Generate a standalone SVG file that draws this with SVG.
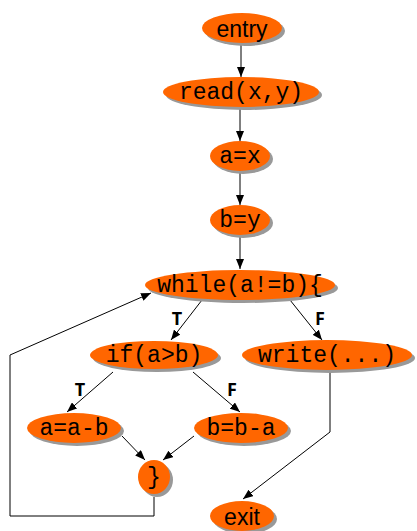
<svg xmlns="http://www.w3.org/2000/svg" width="417" height="531" viewBox="0 0 417 531">
<defs>
<marker id="ah" markerWidth="10" markerHeight="8" refX="10" refY="4" orient="auto" markerUnits="userSpaceOnUse">
<path d="M0,0 L10,4 L0,8 Z" fill="#000"/>
</marker>
</defs>
<style>
.sh{fill:#999;}
.nd{fill:#FF6600;}
.mono{font-family:"Liberation Mono","Courier New",monospace;font-size:23px;fill:#000;text-anchor:middle;}
.sans{font-family:"Liberation Sans",Arial,sans-serif;font-size:23px;fill:#000;text-anchor:middle;}
.lbl{font-family:"Open Sans","Liberation Sans",sans-serif;font-size:18px;font-weight:bold;fill:#000;text-anchor:middle;}
.ed{stroke:#000;stroke-width:1;fill:none;}
</style>
<rect width="417" height="531" fill="#fff"/>
<g id="edges">
<line class="ed" x1="241" y1="44" x2="241" y2="77" marker-end="url(#ah)"/>
<line class="ed" x1="240" y1="107" x2="240" y2="141" marker-end="url(#ah)"/>
<line class="ed" x1="240" y1="171" x2="240" y2="205" marker-end="url(#ah)"/>
<line class="ed" x1="240" y1="235" x2="240" y2="269" marker-end="url(#ah)"/>
<line class="ed" x1="202" y1="300" x2="171" y2="340" marker-end="url(#ah)"/>
<line class="ed" x1="290" y1="300" x2="322" y2="340" marker-end="url(#ah)"/>
<line class="ed" x1="113" y1="372" x2="67" y2="412" marker-end="url(#ah)"/>
<line class="ed" x1="193" y1="372" x2="240" y2="412" marker-end="url(#ah)"/>
<line class="ed" x1="122" y1="436" x2="145" y2="460" marker-end="url(#ah)"/>
<line class="ed" x1="194" y1="436" x2="163" y2="460" marker-end="url(#ah)"/>
<polyline class="ed" points="330,370 330,432 243,499" marker-end="url(#ah)"/>
<polyline class="ed" points="154,497 154,516 10,516 10,355 151,293" marker-end="url(#ah)"/>
<text class="lbl" x="177" y="325">T</text>
<text class="lbl" x="320" y="325">F</text>
<text class="lbl" x="80" y="396">T</text>
<text class="lbl" x="232" y="396">F</text>
</g>
<g id="entry">
<ellipse class="sh" cx="245" cy="31" rx="40" ry="15"/>
<ellipse class="nd" cx="242" cy="28" rx="40" ry="15"/>
<text class="sans" x="242" y="37">entry</text>
</g>
<g id="read">
<ellipse class="sh" cx="244" cy="95" rx="78" ry="15"/>
<ellipse class="nd" cx="241" cy="92" rx="78" ry="15"/>
<text class="mono" x="241" y="99">read(x,y)</text>
</g>
<g id="ax">
<ellipse class="sh" cx="243" cy="159" rx="30" ry="15"/>
<ellipse class="nd" cx="240" cy="156" rx="30" ry="15"/>
<text class="mono" x="240" y="163">a=x</text>
</g>
<g id="by">
<ellipse class="sh" cx="243" cy="223" rx="30" ry="15"/>
<ellipse class="nd" cx="240" cy="220" rx="30" ry="15"/>
<text class="mono" x="240" y="227">b=y</text>
</g>
<g id="while">
<ellipse class="sh" cx="243" cy="288" rx="95" ry="15"/>
<ellipse class="nd" cx="240" cy="285" rx="95" ry="15"/>
<text class="mono" x="240" y="292">while(a!=b){</text>
</g>
<g id="if">
<ellipse class="sh" cx="157" cy="358" rx="64" ry="14"/>
<ellipse class="nd" cx="154" cy="355" rx="64" ry="14"/>
<text class="mono" x="154" y="362">if(a&gt;b)</text>
</g>
<g id="write">
<ellipse class="sh" cx="330" cy="358" rx="85" ry="15"/>
<ellipse class="nd" cx="327" cy="355" rx="85" ry="15"/>
<text class="mono" x="327" y="362">write(...)</text>
</g>
<g id="aab">
<ellipse class="sh" cx="77" cy="431" rx="47" ry="15"/>
<ellipse class="nd" cx="74" cy="428" rx="47" ry="15"/>
<text class="mono" x="74" y="435">a=a-b</text>
</g>
<g id="bba">
<ellipse class="sh" cx="244" cy="431" rx="47" ry="15"/>
<ellipse class="nd" cx="241" cy="428" rx="47" ry="15"/>
<text class="mono" x="241" y="435">b=b-a</text>
</g>
<g id="close">
<ellipse class="sh" cx="157" cy="480" rx="16" ry="17"/>
<ellipse class="nd" cx="154" cy="477" rx="16" ry="17"/>
<text class="mono" x="154" y="484">}</text>
</g>
<g id="exit">
<ellipse class="sh" cx="245" cy="519" rx="32" ry="15"/>
<ellipse class="nd" cx="242" cy="516" rx="32" ry="15"/>
<text class="sans" x="242" y="525">exit</text>
</g>
</svg>
